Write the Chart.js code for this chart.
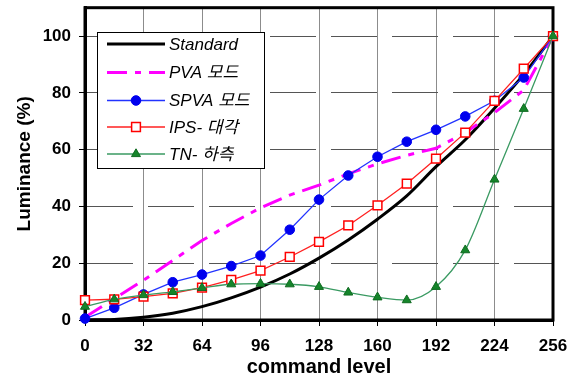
<!DOCTYPE html>
<html>
<head>
<meta charset="utf-8">
<script src="https://cdn.jsdelivr.net/npm/chart.js@4"></script>
<style>
  html, body { margin: 0; padding: 0; background: #fff; }
  canvas { display: block; }
</style>
</head>
<body>
<canvas id="chart" width="579" height="381"></canvas>
<script>
// command levels (every 16)
const levels = [0, 16, 32, 48, 64, 80, 96, 112, 128, 144, 160, 176, 192, 208, 224, 240, 256];
const xTicks = [0, 32, 64, 96, 128, 160, 192, 224, 256];
const yTicks = [0, 20, 40, 60, 80, 100];

const seriesNames = ['Standard', 'PVA 모드', 'SPVA 모드', 'IPS- 대각', 'TN- 하측'];

const standard = [0, 0.2, 1, 2.4, 4.7, 7.8, 11.6, 16.2, 21.8, 28.2, 35.5, 43.7, 54, 63.5, 74.6, 86.5, 100];
const pva = [1, 7.5, 14, 21, 28, 34, 39.5, 44, 47.5, 51.5, 55, 58, 60.5, 66, 73, 81, 100];
const spva = [0.5, 4.3, 9, 13.3, 16, 19, 22.7, 31.8, 42.4, 50.9, 57.5, 62.8, 67, 71.7, 77.2, 85.4, 100];
const ips = [7, 7.3, 8.2, 9.4, 11.4, 14.1, 17.4, 22.2, 27.5, 33.3, 40.4, 48, 56.8, 66, 77.2, 88.5, 100];
const tn = [4.7, 7.3, 8.8, 9.9, 11.3, 12.6, 12.8, 12.6, 11.7, 9.7, 8, 7, 11.7, 24.6, 49.5, 74.4, 100];

function pts(vals) {
  return levels.map((x, i) => ({ x: x, y: vals[i] }));
}

const FONT = "'Liberation Sans', Arial, sans-serif";
const LEGEND_FONT = "'Liberation Sans', 'Noto Sans CJK KR', Arial, sans-serif";

// thick frame round the plot (under the data)
const framePlugin = {
  id: 'frame',
  beforeDatasetsDraw(chart) {
    const { ctx, chartArea: a } = chart;
    ctx.save();
    ctx.strokeStyle = '#000';
    ctx.lineWidth = 3;
    ctx.strokeRect(a.left, a.top, a.right - a.left, a.bottom - a.top);
    ctx.restore();
  }
};

// legend box inside the plot
const boxLegend = {
  id: 'boxLegend',
  afterDraw(chart) {
    const ctx = chart.ctx;
    const bx = 97, by = 32, bw = 167, bh = 136;
    const rows = [44, 72.5, 100.5, 127, 154];
    ctx.save();
    ctx.fillStyle = '#fff';
    ctx.fillRect(bx, by, bw, bh);
    ctx.strokeStyle = '#000';
    ctx.lineWidth = 1;
    ctx.strokeRect(bx + 0.5, by + 0.5, bw, bh);
    chart.data.datasets.forEach((ds, i) => {
      const y = rows[i];
      ctx.save();
      ctx.strokeStyle = ds.borderColor;
      ctx.lineWidth = ds.borderWidth;
      ctx.setLineDash(ds.borderDash || []);
      ctx.beginPath();
      ctx.moveTo(107, y);
      ctx.lineTo(165, y);
      ctx.stroke();
      ctx.setLineDash([]);
      if (ds.pointRadius) {
        ctx.fillStyle = ds.pointBackgroundColor;
        ctx.strokeStyle = ds.pointBorderColor;
        ctx.lineWidth = ds.pointBorderWidth;
        Chart.helpers.drawPoint(ctx, {
          pointStyle: ds.pointStyle,
          radius: ds.pointRadius,
          rotation: 0,
          borderWidth: ds.pointBorderWidth
        }, 136, y);
      }
      ctx.restore();
      ctx.fillStyle = '#000';
      ctx.font = 'italic 17px ' + LEGEND_FONT;
      ctx.textBaseline = 'middle';
      ctx.textAlign = 'left';
      ctx.fillText(ds.label, 169, y + 1);
    });
    ctx.restore();
  }
};

new Chart(document.getElementById('chart').getContext('2d'), {
  type: 'line',
  data: {
    datasets: [
      {
        label: seriesNames[0], data: pts(standard), order: 5,
        borderColor: '#000', borderWidth: 3, pointRadius: 0,
        tension: 0.4, cubicInterpolationMode: 'monotone'
      },
      {
        label: seriesNames[1], data: pts(pva), order: 4,
        borderColor: '#ff00ff', borderWidth: 3, borderDash: [20, 8, 6, 8], pointRadius: 0
      },
      {
        label: seriesNames[2], data: pts(spva), order: 3,
        borderColor: '#2233ff', borderWidth: 1.3,
        pointStyle: 'circle', pointRadius: 4.8,
        pointBackgroundColor: '#0000ee', pointBorderColor: '#0000ee', pointBorderWidth: 1
      },
      {
        label: seriesNames[3], data: pts(ips), order: 2,
        borderColor: '#ff2020', borderWidth: 1.3,
        pointStyle: 'rect', pointRadius: 6.2,
        pointBackgroundColor: '#fff', pointBorderColor: '#ff0000', pointBorderWidth: 1.5
      },
      {
        label: seriesNames[4], data: pts(tn), order: 1,
        borderColor: '#3a9a62', borderWidth: 1.3,
        tension: 0.4, cubicInterpolationMode: 'monotone',
        pointStyle: 'triangle', pointRadius: 5.2,
        pointBackgroundColor: '#15852a', pointBorderColor: '#0f6a20', pointBorderWidth: 1
      }
    ]
  },
  options: {
    responsive: false,
    animation: false,
    devicePixelRatio: 1,
    clip: false,
    layout: { padding: { top: 7, right: 26, left: 0, bottom: 0 } },
    plugins: { legend: { display: false }, tooltip: { enabled: false } },
    scales: {
      x: {
        type: 'linear', min: 0, max: 256,
        afterBuildTicks: s => { s.ticks = xTicks.map(v => ({ value: v })); },
        afterFit: s => { s.height = 61; s.paddingLeft = 0; s.paddingRight = 0; },
        grid: { color: '#8c8c8c', lineWidth: 1, tickLength: 6, tickColor: '#000', tickBorderDash: [] },
        border: { color: '#000', width: 3 },
        ticks: { color: '#000', padding: 10, maxRotation: 0, font: { family: FONT, size: 17, weight: 'bold' } },
        title: {
          display: true, text: 'command level', color: '#000',
          font: { family: FONT, size: 20, weight: 'bold' }, padding: { top: 0, bottom: 2 }
        }
      },
      y: {
        type: 'linear', min: 0, max: 110,
        afterBuildTicks: s => { s.ticks = yTicks.map(v => ({ value: v })); },
        afterFit: s => { s.width = 85; s.paddingTop = 0; s.paddingBottom = 0; },
        grid: { color: '#555', lineWidth: 1, tickLength: 6, tickColor: '#000', tickBorderDash: [] },
        border: { color: '#000', width: 3, dash: [46, 15] },
        ticks: { color: '#000', padding: 8, font: { family: FONT, size: 17, weight: 'bold' } },
        title: {
          display: true, text: 'Luminance (%)', color: '#000',
          font: { family: FONT, size: 19, weight: 'bold' }, padding: { top: 13.6, bottom: 0 }
        }
      }
    }
  },
  plugins: [framePlugin, boxLegend]
});
</script>
</body>
</html>
